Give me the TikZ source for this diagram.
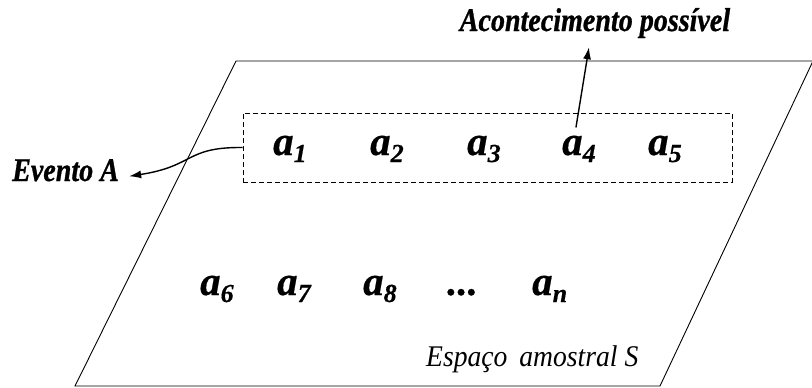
\documentclass[tikz,border=0pt]{standalone}
\usepackage{fontspec}
\setmainfont{Liberation Serif}
\newfontfamily\narrowserif[FakeStretch=0.85,FakeBold=0.8]{Liberation Serif}
\newfontfamily\heavyserif[FakeBold=0.5]{Liberation Serif}
\newfontfamily\slimserif[FakeStretch=0.92]{Liberation Serif}
\usetikzlibrary{arrows.meta}

% element a_k: bold italic letter with a lowered index
\newcommand\elemsym[1]{a\lower7pt\hbox{\fontsize{26}{26}\selectfont #1}}

\tikzset{
  frame/.style={line width=0.9pt},
  eventbox/.style={draw, dashed, dash pattern=on 5pt off 3pt, line width=1pt,
                   inner sep=0pt},
  elem/.style={anchor=base west, inner sep=0pt,
               font=\heavyserif\fontsize{41}{41}\selectfont\bfseries\itshape},
  callout/.style={font=\narrowserif\fontsize{33}{33}\selectfont\bfseries\itshape,
                  inner sep=4pt},
  pointer/.style={line width=1.4pt, -{Latex[length=12pt,width=8pt]}},
  spacelabel/.style={anchor=base west, inner sep=0pt,
                     font=\slimserif\fontsize{30}{30}\selectfont\itshape}
}

\begin{document}
\begin{tikzpicture}[x=1pt,y=-1pt]
\useasboundingbox (0,0) rectangle (812,388);

% sample space S
\draw[frame] (75,386) -- (660,386) -- (813,61) -- (236,61) -- cycle;

% event A
\node[eventbox, minimum width=489pt, minimum height=69pt] (ev) at (487.5,147.5) {};

% outcomes inside A
\node[elem] (a1) at (273,155) {\elemsym{1}};
\node[elem] (a2) at (370,155) {\elemsym{2}};
\node[elem] (a3) at (467,155) {\elemsym{3}};
\node[elem] (a4) at (562,155) {\elemsym{4}};
\node[elem] (a5) at (648,155) {\elemsym{5}};

% remaining outcomes
\node[elem] (a6) at (200,295) {\elemsym{6}};
\node[elem] (a7) at (277,295) {\elemsym{7}};
\node[elem] (a8) at (363,295) {\elemsym{8}};
\node[elem] (dots) at (447,295) {...};
\node[elem] (an) at (532,295) {\elemsym{n}};

\node[spacelabel] (sname) at (426,366) {Espaço\hspace{12pt}amostral\hspace{7pt}S};

% callouts
\node[callout, anchor=base] (acont) at (595,31) {Acontecimento possível};
\node[callout, anchor=base west, inner sep=0pt] (evlab) at (12,181) {Evento A};

\draw[pointer] ([xshift=-3pt,yshift=8pt]a4.north) -- ([xshift=-6pt,yshift=-5pt]acont.south);
\draw[pointer] (ev.west) .. controls (185,147) and (195,166) .. ([xshift=10pt,yshift=-6pt]evlab.east);
\end{tikzpicture}
\end{document}
